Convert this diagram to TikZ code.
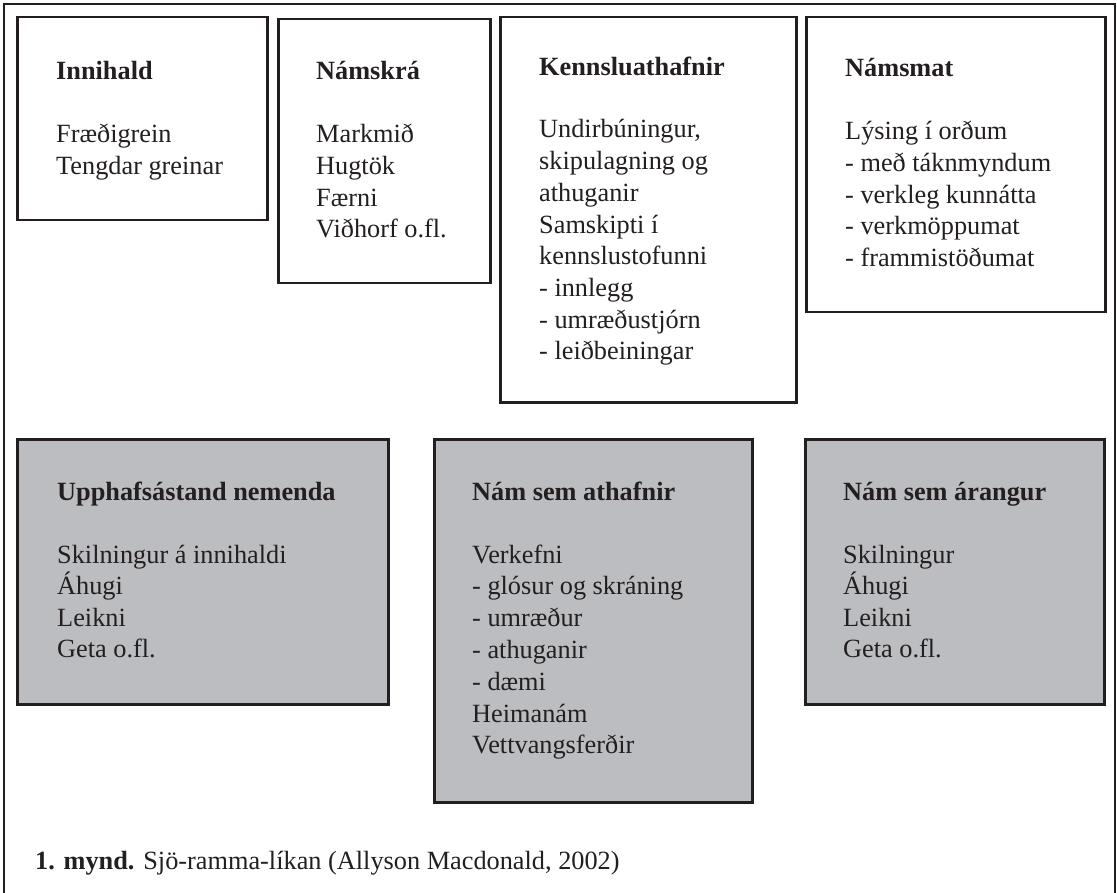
\documentclass[tikz,border=0pt]{standalone}
\usepackage{fontspec}
\setmainfont{Liberation Serif}
\definecolor{ink}{RGB}{35,31,32}
\definecolor{boxgray}{RGB}{188,189,193}
\begin{document}
\begin{tikzpicture}[x=1pt,y=-1pt,
  box/.style={draw=ink, line width=2.5pt, anchor=north west, inner sep=0pt},
  wbox/.style={box, fill=white},
  gbox/.style={box, fill=boxgray},
  head/.style={anchor=base west, inner sep=0pt, font=\fontsize{26.3}{31.6}\selectfont\bfseries, text=ink},
  body/.style={anchor=base west, inner sep=0pt, font=\fontsize{26.3}{31.6}\selectfont, text=ink}]
\useasboundingbox (0,0) rectangle (1117,893);
\fill[white] (0,0) rectangle (1117,893);
% outer frame (bottom edge lies outside the picture)
\coordinate (fbl) at (4,905);
\coordinate (ftl) at (4,4);
\coordinate (ftr) at (1115,4);
\coordinate (fbr) at (1115,905);
\draw[ink, line width=2.6pt] (fbl) -- (ftl) -- (ftr) -- (fbr);

% top row boxes
\node[wbox, minimum width=250pt, minimum height=203pt] (innihald) at (16,16) {};
\node[wbox, minimum width=212pt, minimum height=264pt] (namskra) at (277,18) {};
\node[wbox, minimum width=296pt, minimum height=385pt] (kennsla) at (499,16) {};
\node[wbox, minimum width=299pt, minimum height=295pt] (namsmat) at (805,16) {};

% bottom row boxes
\node[gbox, minimum width=371pt, minimum height=265pt] (upphaf) at (16,438) {};
\node[gbox, minimum width=318pt, minimum height=363pt] (athafnir) at (433,438) {};
\node[gbox, minimum width=299pt, minimum height=265pt] (arangur) at (804,438) {};

% Innihald
\node[head] (inn-h) at (56,80) {Innihald};
\foreach \t [count=\i from 0] in {Fræðigrein,Tengdar greinar}
  \node[body] (inn-\i) at (56,143+31.6*\i) {\t};

% Námskrá
\node[head] (nsk-h) at (316,80) {Námskrá};
\foreach \t [count=\i from 0] in {Markmið,Hugtök,Færni,Viðhorf o.fl.}
  \node[body] (nsk-\i) at (316,143+31.6*\i) {\t};

% Kennsluathafnir
\node[head] (ken-h) at (539,76) {Kennsluathafnir};
\foreach \t [count=\i from 0] in {{Undirbúningur,},skipulagning og,athuganir,Samskipti í,kennslustofunni,- innlegg,- umræðustjórn,- leiðbeiningar}
  \node[body] (ken-\i) at (539,138+31.7*\i) {\t};

% Námsmat
\node[head] (nmt-h) at (845,77) {Námsmat};
\foreach \t [count=\i from 0] in {Lýsing í orðum,- með táknmyndum,- verkleg kunnátta,- verkmöppumat,- frammistöðumat}
  \node[body] (nmt-\i) at (845,140+31.6*\i) {\t};

% Upphafsástand nemenda
\node[head] (upp-h) at (57,500) {Upphafsástand nemenda};
\foreach \t [count=\i from 0] in {Skilningur á innihaldi,Áhugi,Leikni,Geta o.fl.}
  \node[body] (upp-\i) at (57,563+31.6*\i) {\t};

% Nám sem athafnir
\node[head] (ath-h) at (472,500) {Nám sem athafnir};
\foreach \t [count=\i from 0] in {Verkefni,- glósur og skráning,- umræður,- athuganir,- dæmi,Heimanám,Vettvangsferðir}
  \node[body] (ath-\i) at (472,563+31.8*\i) {\t};

% Nám sem árangur
\node[head] (ara-h) at (843,500) {Nám sem árangur};
\foreach \t [count=\i from 0] in {Skilningur,Áhugi,Leikni,Geta o.fl.}
  \node[body] (ara-\i) at (843,563+31.6*\i) {\t};

% caption
\node[body] (caption) at (35,869) {\textbf{1. mynd.} Sjö-ramma-líkan (Allyson Macdonald, 2002)};
\end{tikzpicture}
\end{document}
